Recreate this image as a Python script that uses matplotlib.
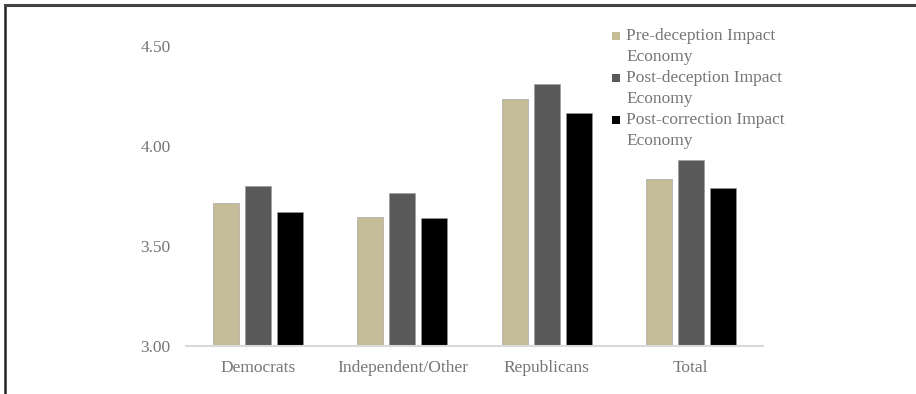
import matplotlib.pyplot as plt
from matplotlib.lines import Line2D
from matplotlib.patches import Rectangle
import numpy as np

groups = ["Democrats", "Independent/Other", "Republicans", "Total"]
pre_deception = [3.715, 3.645, 4.235, 3.835]
post_deception = [3.80, 3.765, 4.31, 3.93]
post_correction = [3.67, 3.64, 4.165, 3.79]
series_names = ["Pre-deception Impact\nEconomy",
                "Post-deception Impact\nEconomy",
                "Post-correction Impact\nEconomy"]
colors = ["#C4BD97", "#595959", "#000000"]
yticks = [3.00, 3.50, 4.00, 4.50]

plt.rcParams["font.family"] = ["Liberation Serif", "DejaVu Serif"]
grey = "#767676"
fs = 12.5

W, H = 916, 394
fig = plt.figure(figsize=(W / 100, H / 100), dpi=100)
ax = fig.add_axes([0.203, 0.122, 0.63, 0.761])

x = np.arange(len(groups))
width = 0.18
offset = 0.222
for i, vals in enumerate([pre_deception, post_deception, post_correction]):
    ax.bar(x + (i - 1) * offset, vals, width, color=colors[i],
           edgecolor="#9a9a9a", linewidth=0.4, zorder=2)

ax.set_xlim(-0.5, 3.5)
ax.set_ylim(3.0, 4.5)
ax.set_yticks(yticks)
ax.set_yticklabels([f"{v:.2f}" for v in yticks])
ax.set_xticks(x)
ax.set_xticklabels(groups)
ax.tick_params(axis="both", length=0, labelsize=fs, colors=grey)
ax.tick_params(axis="y", pad=11)
ax.tick_params(axis="x", pad=10)

for s in ["top", "right", "left"]:
    ax.spines[s].set_visible(False)
ax.spines["bottom"].set_color("#d9d9d9")
ax.spines["bottom"].set_linewidth(1.5)

# legend drawn by hand so the square sits on the first text line
for i, (name, c) in enumerate(zip(series_names, colors)):
    y0 = 36 + i * 42
    fig.add_artist(Rectangle((612 / W, 1 - (y0 + 4) / H), 8 / W, 8 / H,
                             transform=fig.transFigure, facecolor=c,
                             edgecolor="none"))
    for j, line in enumerate(name.split("\n")):
        fig.text(626 / W, 1 - (y0 + j * 21) / H, line, fontsize=fs,
                 color=grey, va="center", ha="left")

# outer frame (left and top)
fig.add_artist(Line2D([0.006, 0.006], [0.0, 0.987], color="#222222", lw=1.8))
fig.add_artist(Line2D([0.006, 1.0], [0.987, 0.987], color="#444444", lw=2.2))

fig.savefig("out.png", dpi=100)
